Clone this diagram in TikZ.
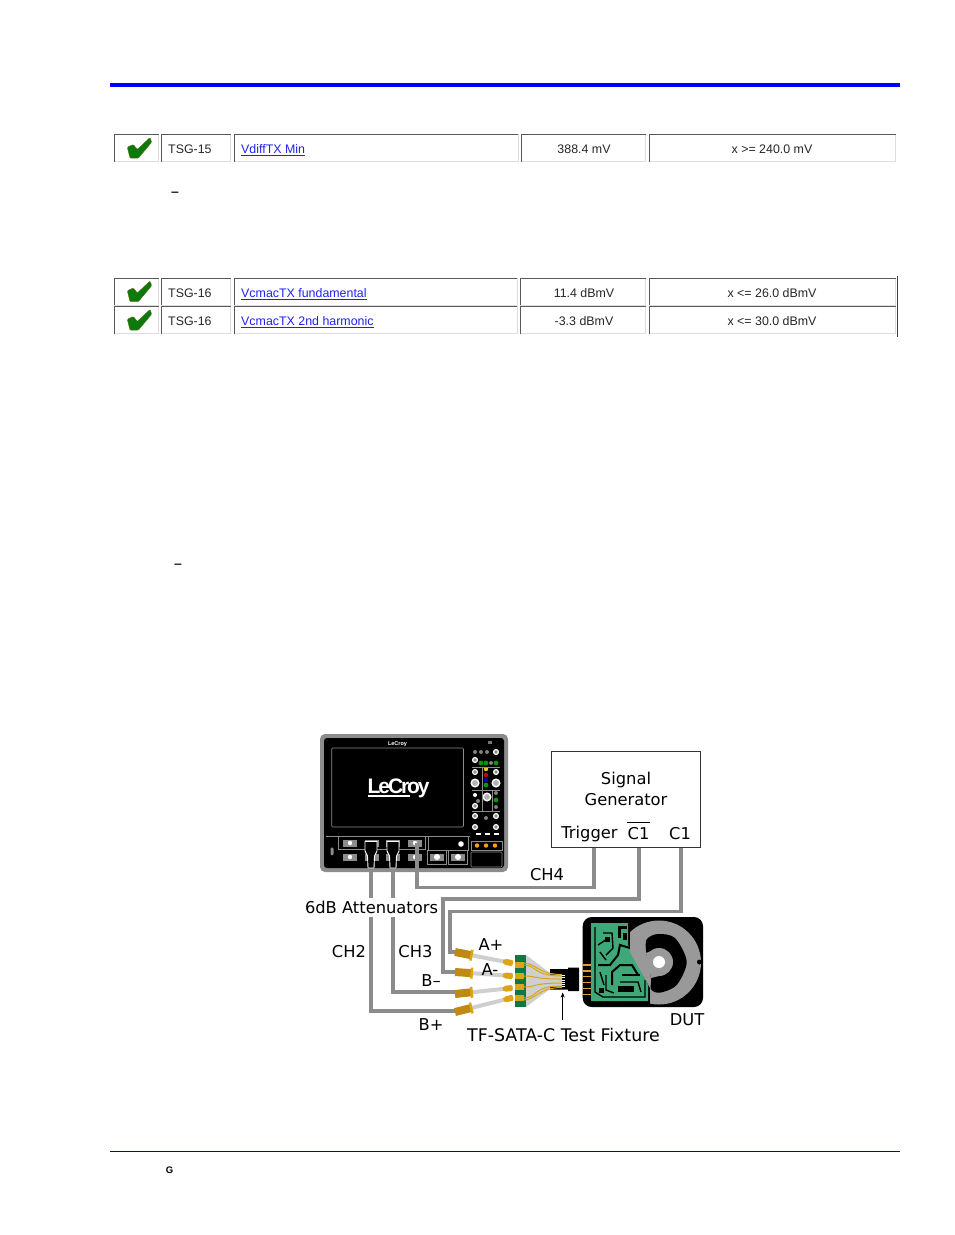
\documentclass[tikz,border=0pt]{standalone}
\usepackage{fontspec}
\setmainfont{Liberation Sans}
\newfontfamily\labelfont{DejaVu Sans}
\newfontfamily\logofont[LetterSpace=-10]{Liberation Sans Bold}
\usetikzlibrary{arrows.meta}
\definecolor{cablegray}{HTML}{8C8C8C}
\definecolor{leadgray}{HTML}{CFCFCF}
\definecolor{smagold}{HTML}{BE8A14}
\definecolor{tipgold}{HTML}{DDA516}
\definecolor{fingergold}{HTML}{E89A2C}
\definecolor{boardgreen}{HTML}{0C7A3E}
\definecolor{pcbgreen}{HTML}{3FA878}
\definecolor{passgreen}{HTML}{0A7A0A}
\definecolor{linkblue}{HTML}{2020F0}
\tikzset{
    cable/.style={cablegray, line width=3.8pt},
    cellback/.style={draw=black!13, line width=1pt},
    celledge/.style={draw=black!65, line width=1pt},
    tabletext/.style={inner sep=0pt, text=black!85, font=\fontsize{12.4}{15}\selectfont},
    tablelink/.style={tabletext, text=linkblue, anchor=base west},
    difflabel/.style={inner sep=0pt, font=\labelfont\fontsize{16.3}{20}\selectfont},
    panelline/.style={cablegray, line width=0.6pt},
    trace/.style={black, line width=1.4pt},
}
\newcommand{\passmark}[2]{%
    \fill[passgreen, draw=olive!70!black, line width=0.4pt, rounded corners=1pt, shift={(#1,#2)}]
        (13.3,12.7) -- (19.3,10) -- (23.3,15) -- (36,3) -- (37.7,7.7) -- (24.3,23.7) -- (16,23.7) -- cycle;
}
\newcommand{\resultrow}[8]{%
    \foreach \cl/\cr in {114/158.7,161/230.5,234/#8,#7/645.5,649.5/895.5} {
        \draw[cellback] (\cl,#2) rectangle (\cr,#2+27);
        \draw[celledge] (\cl,#2+27) -- (\cl,#2) -- (\cr,#2);
    }
    \passmark{114}{#2}
    \node[tabletext, anchor=base west] (#1id) at (168,#2+19.2) {#3};
    \node[tablelink] (#1link) at (241,#2+19.2) {\underline{#4}};
    \node[tabletext, anchor=base] (#1val) at (584,#2+19.2) {#5};
    \node[tabletext, anchor=base] (#1lim) at (772,#2+19.2) {#6};
}
\begin{document}
\begin{tikzpicture}[x=1pt, y=-1pt]
\useasboundingbox (0,0) rectangle (954,1235);
\fill[blue] (110,83) rectangle (900,87);
\draw[blue!75!black, line width=1pt] (110,1151.3) -- (900,1151.3);

\resultrow{vdiff}{134.5}{TSG-15}{VdiffTX Min}{388.4 mV}{x >= 240.0 mV}{521}{518}
\resultrow{fund}{278}{TSG-16}{VcmacTX fundamental}{11.4 dBmV}{x <= 26.0 dBmV}{520}{517}
\resultrow{harm}{306.5}{TSG-16}{VcmacTX 2nd harmonic}{-3.3 dBmV}{x <= 30.0 dBmV}{520}{517}
\draw[black!75, line width=1pt] (897.3,276) -- (897.3,337);

\node[tabletext, font=\bfseries\fontsize{14}{15}\selectfont] (dashone) at (175,194.5) {–};
\node[tabletext, font=\bfseries\fontsize{14}{15}\selectfont] (dashtwo) at (178,566.5) {–};
\node[inner sep=0pt, font=\bfseries\fontsize{9.5}{10}\selectfont] (footg) at (169.5,1170) {G};

% scope
\fill[cablegray, rounded corners=5pt] (320,734) rectangle (508,872);
\fill[black, rounded corners=3pt] (324,738) rectangle (504,868);
\draw[panelline, rounded corners=1pt] (331.7,748) rectangle (463.5,827);
\node[text=white, inner sep=0pt, font=\bfseries\fontsize{5.5}{6}\selectfont] (logosmall) at (397.5,744) {LeCroy};
\node[text=white, inner sep=0pt, anchor=base west, font=\logofont\fontsize{21}{24}\selectfont] (logo) at (367.5,793) {LeCroy};
\fill[white] (368,795.3) rectangle (410,797);

\draw[panelline] (326,836.5) -- (470,836.5);
\draw[panelline] (338,836.5) -- (338,849.5) -- (425,849.5) -- (425,836.5);
\draw[panelline] (428,836.5) -- (428,850) -- (468,850) -- (468,836.5);
\draw[panelline] (471,841) rectangle (502,850);
\draw[panelline, rounded corners=1pt] (471,852) rectangle (502,867);
\fill[white] (461,844) circle (2.8);
\fill[black!45, rounded corners=1pt] (330.5,847.5) rectangle (333.5,855);
\foreach \bx in {477,486,495} {
    \fill[orange!75!yellow] (\bx,845.5) circle (2.2);
}
\foreach \bx/\by in {350/843,371.7/843,393/843,415/843,350/857,371.7/857,393/857,415/857} {
    \fill[black!45] (\bx-7,\by-3.5) rectangle (\bx+7,\by+3.5);
    \fill[white] (\bx,\by) circle (2.2);
}
\foreach \bx in {437,458} {
    \draw[panelline] (\bx-9.5,850) rectangle (\bx+9.5,864);
    \fill[black!45] (\bx-7,853.5) rectangle (\bx+7,860.5);
    \fill[white] (\bx,857) circle (3);
}

\foreach \px/\py in {475/760,496/752,475/772,496/772,475/806,475/816,496/816,475/827,496/827} {
    \draw[white, line width=1.2pt, fill=black!45] (\px,\py) circle (2.4);
}
\foreach \px/\py in {475/783,496/783,487/797} {
    \draw[white, line width=1.4pt, fill=black!30] (\px,\py) circle (3.8);
}
\foreach \px/\py in {475/752,481/752,487/752,491/763,478/801,496/793,496/807,486/818} {
    \fill[black!50] (\px,\py) circle (2);
}
\foreach \px/\py in {481/763,486/763,496/763,486/785,496/800} {
    \fill[green!60!black] (\px,\py) circle (2.4);
}
\fill[white] (475,795) circle (2);
\fill[yellow!85!black] (486,769) circle (2.2);
\fill[red!80!black] (486,775) circle (2.2);
\fill[blue!75!black] (486,780) circle (2.2);
\fill[black!55] (488,740.5) rectangle (492,743.5);
\foreach \ly in {767,790,811} {
    \draw[panelline] (472,\ly) -- (500,\ly);
}
\draw[panelline] (482,767) -- (482,790);
\draw[panelline] (482,790) -- (482,811);
\draw[panelline] (492,790) -- (492,811);
\foreach \px in {478,487,496} {
    \fill[white] (\px-2.5,833.2) rectangle (\px+2.5,835.2);
}

% signal generator
\node[draw=black!80, line width=1pt, minimum width=149pt, minimum height=96pt, inner sep=0pt] (siggen) at (625.5,799) {};
\node[difflabel] (signal) at (626,779.5) {Signal};
\node[difflabel] (generator) at (626,799.5) {Generator};
\node[difflabel] (trigger) at (589.5,833.5) {Trigger};
\node[difflabel] (cbar) at (638.5,833.5) {C1};
\node[difflabel] (cone) at (680,833.5) {C1};
\draw[black, line width=0.8pt] (cbar.north west |- 0,822.5) -- (cbar.north east |- 0,822.5);

\coordinate (trigout) at (594,847.5);
\coordinate (cbarout) at (639,847.5);
\coordinate (coneout) at (681,847.5);
\coordinate (chfour) at (416.7,843);
\coordinate (chtwo) at (371,866);
\coordinate (chthree) at (393,866);
\coordinate (aplus) at (463,951.7);
\coordinate (aminus) at (463,971.7);
\coordinate (bminus) at (463,992);
\coordinate (bplus) at (463,1010.7);

\draw[cable] (chfour) -- (416.7,887.5) -- (594,887.5) -- (trigout);
\draw[cable] (cbarout) -- (639,899) -- (442.7,899) -- (442.7,971.7) -- (aminus);
\draw[cable] (coneout) -- (681,911.5) -- (450,911.5) -- (450,951.7) -- (aplus);
\draw[cable] (chthree) -- (393,992) -- (bminus);
\draw[cable] (chtwo) -- (371,1010.7) -- (bplus);

\foreach \ax in {371,393} {
    \draw[white, fill=black, line width=0.9pt, line join=round] (\ax-6,841.5) -- (\ax+6,841.5) -- (\ax+6,851) -- (\ax+3.5,856) -- (\ax+3,868) -- (\ax-3,868) -- (\ax-3.5,856) -- (\ax-6,851) -- cycle;
}

% test fixture
\fill[leadgray] (526,955) -- (550,973) -- (562,973) -- (562,989) -- (550,989) -- (526,1007) -- cycle;
\fill[black] (550,969) -- (568,969) -- (568,967.5) -- (579,967.5) -- (579,991) -- (568,991) -- (568,989.5) -- (550,989.5) -- (550,986.5) -- (562,986.5) -- (562,974.5) -- (550,974.5) -- cycle;
\foreach \py in {975.5,977.7,979.9,982.1,984.3,986.5} {
    \draw[white, line width=0.6pt] (562,\py) -- (565,\py);
}
\fill[boardgreen] (515,955) rectangle (526,1007);
\foreach \py/\pt in {965/976,976/979,987/983,998/986} {
    \draw[tipgold, line width=1pt] (523,\py) .. controls (538,\py) and (532,\pt) .. (562,\pt);
    \fill[tipgold] (515,\py-3) rectangle (523.5,\py+3);
}
\draw[tipgold, line width=1pt] (523,963) .. controls (536,963) and (538,974.5) .. (562,974.5);
\draw[tipgold, line width=1pt] (523,1000) .. controls (536,1000) and (538,987.5) .. (562,987.5);
\foreach \sx/\sy/\srot/\slen in {455/952/-11/59,455/972/-4/58,455/994/6/58,455/1012/14/60} {
    \begin{scope}[shift={(\sx,\sy)}, rotate=\srot]
    \fill[leadgray] (17,-2) rectangle (\slen-8,2);
    \fill[smagold] (0,-4) rectangle (16,4);
    \fill[tipgold] (15.5,-5.5) rectangle (18,5.5);
    \fill[tipgold] (\slen-10,-1.5) -- (\slen-7,-3) -- (\slen-1,-3) -- (\slen,-1.5) -- (\slen,1.5) -- (\slen-1,3) -- (\slen-7,3) -- (\slen-10,1.5) -- cycle;
    \end{scope}
}

% dut
\fill[black, rounded corners=9pt] (582.7,917) rectangle (703,1007);
\foreach \fy in {965,971,976.7,982.7,988.3,994.5} {
    \draw[fingergold, line width=1.5pt] (582.7,\fy) -- (591,\fy);
}
\fill[pcbgreen] (591,923) -- (628,923) -- (628,945) -- (648,985) -- (648,1001) -- (591,1001) -- cycle;
\draw[trace] (595,927) -- (595,992) -- (603,997) -- (645,997) -- (645,980);
\draw[trace] (603,933) -- (612,933) -- (613,948) -- (606,955);
\draw[trace] (598,945) -- (607,939);
\draw[trace] (600,952) -- (606,960);
\draw[trace, line width=2pt] (598,965) -- (610,965) -- (618,955) -- (620,945) -- (630,948);
\draw[trace, line width=2pt] (612,985) -- (612,972) -- (620,965) -- (632,965) -- (638,975);
\draw[trace] (600,972) -- (604,985);
\draw[trace] (622,975) -- (640,975);
\draw[trace] (620,982) -- (638,982) -- (641,992);
\draw[trace] (606,975) -- (606,990) -- (614,993);
\fill[black] (605,937) rectangle (610,942);
\fill[black] (618,926) rectangle (621,938);
\fill[black] (618,926) rectangle (627,929);
\fill[black] (623,933) rectangle (627,940);
\fill[black] (599,988) rectangle (604,993);
\fill[black] (618,986) rectangle (634,992);
\begin{scope}
\clip (650,1010) -- (650,988) -- (630,952) -- (630,925) -- (645,915) -- (706,915) -- (706,1010) -- cycle;
\fill[black!40] (659,962.5) circle (42);
\end{scope}
\fill[black] (699.5,962) circle (2.5);
\fill[black] plot [smooth cycle] coordinates {(646.7,939.3) (658,934) (675,938) (686.7,961.7) (676.7,985) (660,992.7) (651,989.3) (651,978) (646.3,953)};
\fill[black!40] (659,962) circle (14);
\fill[black!40] (646,953) -- (659,948) -- (659,976) -- (651,978) -- cycle;
\fill[white] (659,962) circle (6);

% labels
\node[difflabel, fill=white, inner xsep=1pt, minimum height=19pt] (atten) at (371.5,907) {6dB Attenuators};
\node[difflabel] (chfourlabel) at (547,875) {CH4};
\node[difflabel] (chtwolabel) at (349,952) {CH2};
\node[difflabel] (chthreelabel) at (415.5,952) {CH3};
\node[difflabel] (apluslabel) at (491,945) {A+};
\node[difflabel] (aminuslabel) at (490,969.5) {A-};
\node[difflabel] (bminuslabel) at (431,981) {B–};
\node[difflabel] (bpluslabel) at (431,1025) {B+};
\node[difflabel] (dutlabel) at (687,1019.5) {DUT};
\node[difflabel, font=\labelfont\fontsize{17.4}{20}\selectfont] (fixture) at (563.5,1034.5) {TF-SATA-C Test Fixture};
\coordinate (fixturefoot) at (562.7,1019.5);
\coordinate (fixturehead) at (562.7,992.5);
\draw[-{Stealth[length=5pt,width=4pt]}, line width=0.8pt] (fixturefoot) -- (fixturehead);
\end{tikzpicture}
\end{document}
